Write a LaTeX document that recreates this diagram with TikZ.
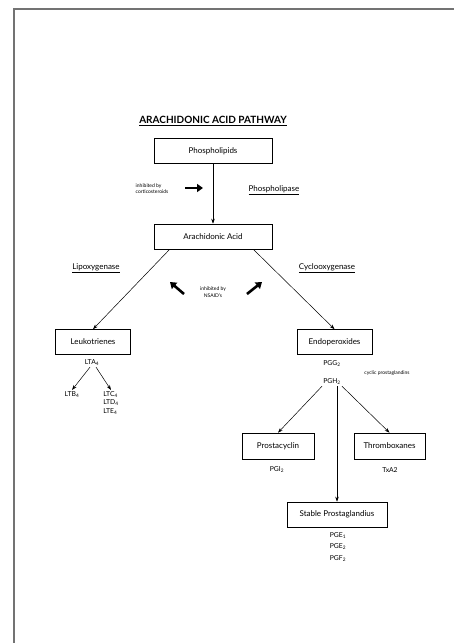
\documentclass[tikz,border=0pt]{standalone}
\usepackage{fontspec}
\setmainfont{Lato}
\usetikzlibrary{arrows.meta}

\begin{document}
\begin{tikzpicture}[x=1pt,y=-1pt,
    box/.style={draw,line width=0.6pt,minimum height=25pt,inner sep=0pt,font=\fontsize{8}{9}\selectfont},
    chem/.style={font=\fontsize{6.8}{11.5}\selectfont,inner sep=1pt,align=left},
    note/.style={font=\fontsize{5}{6.5}\selectfont,align=left,inner sep=0pt},
    enzyme/.style={font=\fontsize{8}{9}\selectfont,inner sep=1pt},
    link/.style={-{Stealth[length=5pt,width=3.5pt]},line width=0.5pt},
    fat/.style={-{Triangle[length=6pt,width=8pt]},line width=2.6pt}]
    \useasboundingbox (0,0) rectangle (453,643);
    % frame of the page
    \draw[line width=1.3pt,black!55] (14,643) -- (14,9) -- (455,9);

    \node (title) at (213,121) {\fontsize{10}{11}\selectfont\bfseries\underline{ARACHIDONIC ACID PATHWAY}};
    \node[box,minimum width=118pt] (phos) at (213,151) {Phospholipids};
    \node[box,minimum width=118pt] (arach) at (213,236.5) {Arachidonic Acid};
    \draw[link] (phos) -- (arach);

    % corticosteroids
    \node[note] (cort) at (152,188.5) {inhibited by\\corticosteroids};
    \coordinate (c1) at (185,188);
    \coordinate (c2) at (203,188);
    \draw[fat] (c1) -- (c2);
    \node[enzyme] (plase) at (274,190) {\underline{Phospholipase}};

    % two branches
    \node[enzyme] (lipox) at (96,268) {\underline{Lipoxygenase}};
    \node[enzyme] (cyclox) at (327,268) {\underline{Cyclooxygenase}};
    \node[box,minimum width=75pt] (leuko) at (93,342) {Leukotrienes};
    \node[box,minimum width=75pt] (endo) at (334.5,342) {Endoperoxides};
    \draw[link] ([xshift=16pt]arach.south west) -- (leuko.north);
    \draw[link] ([xshift=-19pt]arach.south east) -- (endo.north);

    % NSAID's
    \node[note,align=center] (nsaid) at (213,292) {inhibited by\\NSAID's};
    \coordinate (n1) at (184,294);
    \coordinate (n2) at (170,282);
    \coordinate (n3) at (247,294);
    \coordinate (n4) at (262,282);
    \draw[fat] (n1) -- (n2);
    \draw[fat] (n3) -- (n4);

    % leukotrienes
    \node[chem] (lta) at (92,363) {LTA\textsubscript{4}};
    \node[chem,anchor=north] (ltb) at (72,390) {LTB\textsubscript{4}};
    \node[chem,anchor=north] (ltc) at (111,390) {LTC\textsubscript{4}\\[-3pt]LTD\textsubscript{4}\\[-3pt]LTE\textsubscript{4}};
    \draw[link] ([xshift=-2pt]lta.south) -- (ltb.north);
    \draw[link] ([xshift=4pt]lta.south) -- (ltc.north);

    % endoperoxides
    \node[chem] (pgg) at (332,364) {PGG\textsubscript{2}};
    \node[chem] (pgh) at (332,382) {PGH\textsubscript{2}};
    \node[note] (cyclic) at (387,373) {cyclic prostaglandins};
    \node[box,minimum width=72pt,minimum height=26pt] (prosta) at (278,446) {Prostacyclin};
    \node[box,minimum width=71pt,minimum height=26pt] (thromb) at (389.5,446) {Thromboxanes};
    \node[box,minimum width=100pt] (stable) at (337,514.5) {Stable Prostaglandius};
    \draw[link] (pgh.south west) -- (prosta.north);
    \draw[link] (pgh.south east) -- (thromb.north);
    \draw[link] (pgh.south -| stable.north) -- (stable.north);

    \node[chem] (pgi) at (277,470) {PGI\textsubscript{2}};
    \node[chem] (txa) at (390,470) {TxA2};
    \node[chem,anchor=north] (pge) at (338,531) {PGE\textsubscript{1}\\PGE\textsubscript{2}\\PGF\textsubscript{2}};
\end{tikzpicture}
\end{document}
